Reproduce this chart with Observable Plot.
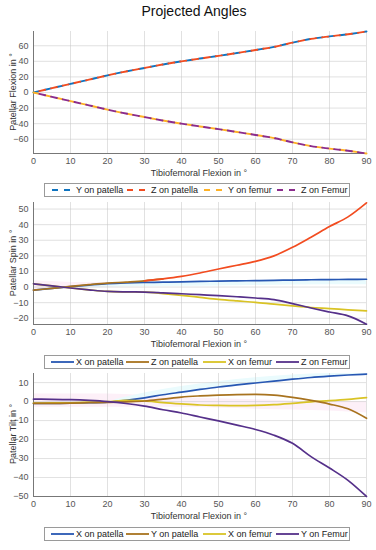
<!DOCTYPE html>
<html>
<head>
<meta charset="utf-8">
<script src="https://cdn.jsdelivr.net/npm/d3@7"></script>
<script src="https://cdn.jsdelivr.net/npm/@observablehq/plot@0.6"></script>
<style>
  html, body { margin: 0; padding: 0; background: #fff; }
  body { font-family: "Liberation Sans", Arial, "DejaVu Sans", sans-serif; }
  #root { position: relative; width: 376px; height: 550px; overflow: hidden; }
  .abs { position: absolute; }
  .title { font-size: 14px; color: #111; white-space: nowrap; transform: translate(-50%, -50%); }
  .xlab { font-size: 9px; color: #333; white-space: nowrap; transform: translate(-50%, -50%); }
  .ylab { font-size: 9px; color: #333; white-space: nowrap; transform: translate(-50%, -50%) rotate(-90deg); }
  .legend { border: 1px solid #9a9a9a; background: #fff; box-sizing: border-box; }
  .legend span { position: absolute; font-size: 9px; color: #222; white-space: nowrap; top: 50%; transform: translateY(-52%); }
  .legend svg { position: absolute; top: 0; }
</style>
</head>
<body>
<div id="root"></div>
<script>
// ---------- DATA ----------
const flexion = [0, 5, 10, 15, 20, 25, 30, 35, 40, 45, 50, 55, 60, 65, 70, 75, 80, 85, 90];
const xTicks = [0, 10, 20, 30, 40, 50, 60, 70, 80, 90];

// Plot 1: Patellar Flexion
const p1Labels = ["Y on patella", "Z on patella", "Y on femur", "Z on Femur"];
const p1YPatella = [0, 5.6, 11, 16.5, 22, 27, 31.5, 36, 40, 43.6, 47, 50.7, 54.5, 58.5, 64, 68.8, 72, 74.8, 78.3];
const p1ZPatella = [0, 5.6, 11, 16.5, 22, 27, 31.5, 36, 40, 43.6, 47, 50.7, 54.5, 58.5, 64, 68.8, 72, 74.8, 78.3];
const p1YFemur = [0, -5.6, -11, -16.5, -22, -27, -31.5, -36, -40, -43.6, -47, -50.7, -54.5, -58.5, -64, -68.8, -72, -74.8, -78.3];
const p1ZFemur = [0, -5.6, -11, -16.5, -22, -27, -31.5, -36, -40, -43.6, -47, -50.7, -54.5, -58.5, -64, -68.8, -72, -74.8, -78.3];
const p1YTicks = [-60, -40, -20, 0, 20, 40, 60];
const p1YDomain = [-78.3, 78.3];

// Plot 2: Patellar Spin
const p2Labels = ["X on patella", "Z on patella", "X on femur", "Z on Femur"];
const p2XPatella = [-2, -0.8, 0.3, 1.3, 2.2, 2.7, 3, 3.1, 3.3, 3.6, 3.8, 4, 4.1, 4.3, 4.5, 4.7, 4.8, 4.9, 5];
const p2ZPatella = [-2, -0.8, 0.4, 1.5, 2.5, 3.2, 4, 5.2, 6.8, 9, 11.6, 14, 16.5, 20, 25.5, 32, 38.8, 45, 54];
const p2XFemur = [2.1, 0.7, -0.6, -1.8, -2.8, -3.1, -3.3, -4.2, -5.3, -6.6, -7.9, -8.9, -9.8, -11, -12.1, -13.1, -13.8, -14.6, -15.3];
const p2ZFemur = [2.1, 0.7, -0.6, -1.8, -2.8, -3.1, -3.2, -3.7, -4.3, -4.9, -5.5, -6.2, -7, -8, -10.6, -13.4, -16, -18.5, -23.8];
const p2YTicks = [-20, -10, 0, 10, 20, 30, 40, 50];
const p2YDomain = [-24, 54.2];
// faint shaded bands
const p2CyanX = [5, 20, 40, 60, 80, 90];
const p2CyanLow = [-1, 0, 0.5, 1, 1.5, 1.5];
const p2CyanHigh = [-0.8, 2.2, 3.3, 4.1, 4.8, 5];
const p2PinkX = [0, 5, 10, 15, 20, 25];
const p2PinkLow = [-2, -1.5, -1, -0.5, 0, 0.5];
const p2PinkHigh = [4, 3.5, 3, 3, 3, 3];

// Plot 3: Patellar Tilt
const p3Labels = ["X on patella", "Y on patella", "X on femur", "Y on Femur"];
const p3XPatella = [-0.9, -0.9, -0.8, -0.6, -0.3, 0.7, 2, 3.6, 5, 6.4, 7.7, 8.8, 9.8, 10.8, 11.8, 12.7, 13.4, 14, 14.5];
const p3YPatella = [-0.9, -0.9, -0.8, -0.6, -0.4, -0.1, 0.3, 1.3, 2.4, 3, 3.4, 3.7, 3.8, 3.4, 2.2, 0.6, -1.3, -3.8, -8.8];
const p3XFemur = [-0.8, -0.7, -0.6, -0.3, 0, 0.7, 0.4, -0.5, -1.2, -1.8, -2, -2.1, -2, -1.6, -0.9, -0.1, 0.5, 1.2, 2.1];
const p3YFemur = [1.3, 1.2, 1, 0.6, 0, -1, -2.4, -4.3, -6, -8.1, -10.2, -12.4, -14.7, -17.7, -22, -29, -35, -41.5, -50];
const p3YTicks = [-50, -40, -30, -20, -10, 0, 10];
const p3YDomain = [-50, 14.8];
const p3CyanX = [22, 30, 40, 50, 60, 70, 80, 90];
const p3CyanLow = [-0.2, 2, 5, 7.7, 9.8, 11.8, 13.4, 14.5];
const p3CyanHigh = [1, 4.5, 8, 10.5, 12.5, 14, 14.8, 14.8];
const p3PinkX = [0, 20, 40, 60, 80, 90];
const p3PinkLow = [-3, -3, -3, -4, -5, -6];
const p3PinkHigh = [4, 4, 2, 1, 0, 0];

// ---------- STYLE ----------
const C = {
  dBlue: "#0f74c0", dRed: "#f24c20", dYellow: "#ffb225", dPurple: "#8b2c8d",
  sBlue: "#2757b3", sBrown: "#a8731f", sYellow: "#d9c325", sPurple: "#55308a"
};
const FONT = '"Liberation Sans", Arial, "DejaVu Sans", sans-serif';
const root = document.getElementById("root");

function pts(xs, ys) { return xs.map((x, i) => ({x, y: ys[i]})); }
function band(xs, lo, hi) { return xs.map((x, i) => ({x, y1: lo[i], y2: hi[i]})); }

function chart({top, plotH, yDomain, yTicks, bands, lines}) {
  const mt = 7, mb = 29;
  const marks = [];
  for (const b of bands) marks.push(Plot.areaY(b.data, {x: "x", y1: "y1", y2: "y2", fill: b.fill, curve: "monotone-x"}));
  marks.push(
    Plot.gridX(xTicks, {stroke: "#c8c8c8", strokeOpacity: 0.55}),
    Plot.gridY(yTicks, {stroke: "#c8c8c8", strokeOpacity: 0.55}),
    Plot.axisX(xTicks, {tickSize: 0, tickPadding: 4, label: null, fontSize: 9, fill: "#555"}),
    Plot.axisY(yTicks, {tickSize: 0, tickPadding: 5, label: null, fontSize: 9, fill: "#555"}),
    Plot.ruleX([0], {stroke: "#777", strokeWidth: 1}),
    Plot.ruleY([yDomain[0]], {stroke: "#777", strokeWidth: 1})
  );
  for (const l of lines) {
    marks.push(Plot.line(l.data, {
      x: "x", y: "y", stroke: l.color, strokeWidth: l.width || 1.7,
      strokeDasharray: l.dash || null, strokeDashoffset: l.offset || 0,
      curve: "monotone-x"
    }));
  }
  const svg = Plot.plot({
    width: 376, height: mt + plotH + mb,
    marginTop: mt, marginBottom: mb, marginLeft: 33, marginRight: 10,
    x: {domain: [0, 90]},
    y: {domain: yDomain},
    style: {fontFamily: FONT, fontSize: "9px", color: "#555", background: "transparent", overflow: "visible"},
    marks
  });
  svg.style.position = "absolute";
  svg.style.left = "0px";
  svg.style.top = (top - mt) + "px";
  root.appendChild(svg);
}

function label(cls, text, x, y) {
  const d = document.createElement("div");
  d.className = "abs " + cls;
  d.textContent = text;
  d.style.left = x + "px";
  d.style.top = y + "px";
  root.appendChild(d);
}

function legend(top, items, textX) {
  const left = 44, width = 306, h = 14;
  const box = document.createElement("div");
  box.className = "abs legend";
  box.style.left = left + "px";
  box.style.top = top + "px";
  box.style.width = width + "px";
  box.style.height = h + "px";
  items.forEach((it, i) => {
    const tx = textX[i] - left;
    const ns = "http://www.w3.org/2000/svg";
    const s = document.createElementNS(ns, "svg");
    s.setAttribute("width", 24);
    s.setAttribute("height", h - 2);
    s.style.left = (tx - 26) + "px";
    const ln = document.createElementNS(ns, "line");
    const cy = (h - 2) / 2;
    if (it.dash) {
      ln.setAttribute("x1", 2); ln.setAttribute("x2", 21);
      ln.setAttribute("stroke-dasharray", "6,6");
    } else {
      ln.setAttribute("x1", 1); ln.setAttribute("x2", 24);
    }
    ln.setAttribute("y1", cy); ln.setAttribute("y2", cy);
    ln.setAttribute("stroke", it.color);
    ln.setAttribute("stroke-width", 1.8);
    s.appendChild(ln);
    box.appendChild(s);
    const sp = document.createElement("span");
    sp.textContent = it.label;
    sp.style.left = tx + "px";
    box.appendChild(sp);
  });
  root.appendChild(box);
}

// ---------- TITLE ----------
label("title", "Projected Angles", 194, 11);

// ---------- PLOT 1 ----------
chart({
  top: 31, plotH: 122, yDomain: p1YDomain, yTicks: p1YTicks, bands: [],
  lines: [
    {data: pts(flexion, p1YPatella), color: C.dBlue, dash: "6,6", offset: 0, width: 1.9},
    {data: pts(flexion, p1ZPatella), color: C.dRed, dash: "6,6", offset: 6, width: 1.9},
    {data: pts(flexion, p1YFemur), color: C.dYellow, dash: "6,6", offset: 0, width: 1.9},
    {data: pts(flexion, p1ZFemur), color: C.dPurple, dash: "6,6", offset: 6, width: 1.9}
  ]
});
label("xlab", "Tibiofemoral Flexion in °", 199, 173);
label("ylab", "Patellar Flexion in °", 13, 92);

// ---------- PLOT 2 ----------
const p2Z = pts(flexion, p2ZPatella);
chart({
  top: 202, plotH: 122, yDomain: p2YDomain, yTicks: p2YTicks,
  bands: [
    {data: band(p2PinkX, p2PinkLow, p2PinkHigh), fill: "#fdf0f8"},
    {data: band(p2CyanX, p2CyanLow, p2CyanHigh), fill: "#eafbfd"}
  ],
  lines: [
    {data: pts(flexion, p2XPatella), color: C.sBlue},
    {data: p2Z.filter(d => d.x <= 35), color: C.sBrown},
    {data: p2Z.filter(d => d.x >= 30), color: C.dRed},
    {data: pts(flexion, p2XFemur), color: C.sYellow},
    {data: pts(flexion, p2ZFemur), color: C.sPurple}
  ]
});
label("xlab", "Tibiofemoral Flexion in °", 199, 344);
label("ylab", "Patellar Spin in °", 13, 263);

// ---------- PLOT 3 ----------
chart({
  top: 373, plotH: 123, yDomain: p3YDomain, yTicks: p3YTicks,
  bands: [
    {data: band(p3PinkX, p3PinkLow, p3PinkHigh), fill: "#fdf0f8"},
    {data: band(p3CyanX, p3CyanLow, p3CyanHigh), fill: "#eafbfd"}
  ],
  lines: [
    {data: pts(flexion, p3XPatella), color: C.sBlue},
    {data: pts(flexion, p3XFemur), color: C.sYellow},
    {data: pts(flexion, p3YPatella), color: C.sBrown},
    {data: pts(flexion, p3YFemur), color: C.sPurple}
  ]
});
label("xlab", "Tibiofemoral Flexion in °", 199, 516);
label("ylab", "Patellar Tilt in °", 13, 434);

// ---------- LEGENDS ----------
const legendTextX = [75, 150, 227, 300];
legend(183, [
  {label: p1Labels[0], color: C.dBlue, dash: true},
  {label: p1Labels[1], color: C.dRed, dash: true},
  {label: p1Labels[2], color: C.dYellow, dash: true},
  {label: p1Labels[3], color: C.dPurple, dash: true}
], legendTextX);
legend(355, [
  {label: p2Labels[0], color: C.sBlue},
  {label: p2Labels[1], color: C.sBrown},
  {label: p2Labels[2], color: C.sYellow},
  {label: p2Labels[3], color: C.sPurple}
], legendTextX);
legend(527, [
  {label: p3Labels[0], color: C.sBlue},
  {label: p3Labels[1], color: C.sBrown},
  {label: p3Labels[2], color: C.sYellow},
  {label: p3Labels[3], color: C.sPurple}
], legendTextX);
</script>
</body>
</html>
